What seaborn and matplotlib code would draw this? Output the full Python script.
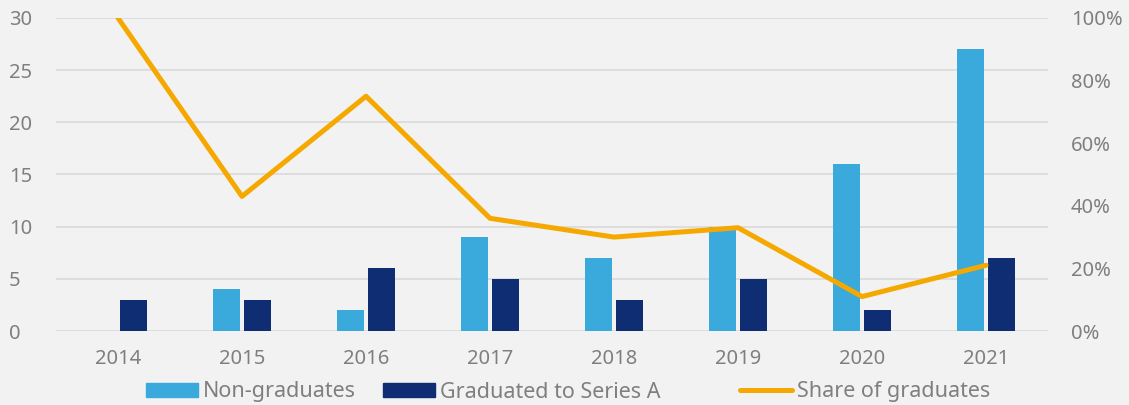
import pandas as pd
import matplotlib
matplotlib.use("Agg")
import matplotlib.pyplot as plt
import seaborn as sns
from matplotlib.patches import Patch
from matplotlib.lines import Line2D

anos = ["2014", "2015", "2016", "2017", "2018", "2019", "2020", "2021"]
nao_graduados = [0, 4, 2, 9, 7, 10, 16, 27]
graduados = [3, 3, 6, 5, 3, 5, 2, 7]
share = [100, 43, 75, 36, 30, 33, 11, 21]

cor_claro = "#3aa9dc"
cor_escuro = "#0f2d73"
cor_linha = "#f5a800"
cor_texto = "#7f7f7f"
fundo = "#f2f2f2"

sns.set_theme(style="white")
plt.rcParams["font.family"] = ["Noto Sans", "DejaVu Sans"]

df = pd.DataFrame({
    "ano": anos * 2,
    "valor": nao_graduados + graduados,
    "serie": ["Non-graduates"] * len(anos) + ["Graduated to Series A"] * len(anos),
})

fig = plt.figure(figsize=(11.29, 4.05), dpi=100, facecolor=fundo)
ax = fig.add_axes([0.0496, 0.1827, 0.8787, 0.7729])
ax.set_facecolor(fundo)

sns.barplot(data=df, x="ano", y="valor", hue="serie", ax=ax,
            palette=[cor_claro, cor_escuro], width=0.5, gap=0.1,
            saturation=1, legend=False, edgecolor="none")
ax.set_ylim(0, 30)
ax.set_yticks(range(0, 31, 5))
ax.set_xlabel("")
ax.set_ylabel("")
ax.grid(axis="y", color="#d9d9d9", lw=1.2)
ax.set_axisbelow(True)
for s in ax.spines.values():
    s.set_visible(False)
ax.tick_params(axis="both", length=0, labelsize=14.5, colors=cor_texto, pad=13)
ax.tick_params(axis="y", pad=34)
for lbl in ax.get_yticklabels():
    lbl.set_horizontalalignment("left")

ax2 = ax.twinx()
sns.lineplot(x=list(range(len(anos))), y=share, ax=ax2, color=cor_linha,
             lw=3.6, solid_capstyle="round")
ax2.set_ylim(0, 100)
ax2.set_yticks(range(0, 101, 20))
ax2.set_yticklabels([f"{v}%" for v in range(0, 101, 20)])
for s in ax2.spines.values():
    s.set_visible(False)
ax2.tick_params(axis="y", length=0, labelsize=14.5, colors=cor_texto, pad=16.5)
ax.set_xlim(-0.5, len(anos) - 0.5)

# legenda: um item por vez, nas posicoes do original
itens = [
    (Patch(color=cor_claro, label="Non-graduates"), 146),
    (Patch(color=cor_escuro, label="Graduated to Series A"), 383),
    (Line2D([0], [0], color=cor_linha, lw=3.6, label="Share of graduates"), 740),
]
for h, x in itens:
    leg = fig.legend(handles=[h], loc="center left", bbox_to_anchor=(x / 1129, 13 / 405),
                     frameon=False, fontsize=15.5, handlelength=2.4, handleheight=0.67,
                     handletextpad=0.25, borderpad=0, borderaxespad=0)
    for t in leg.get_texts():
        t.set_color(cor_texto)

fig.savefig("out.png", dpi=100, facecolor=fundo)
